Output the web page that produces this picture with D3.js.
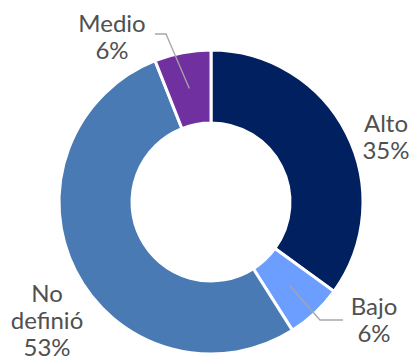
<!DOCTYPE html>
<html>
<head>
<meta charset="utf-8">
<script src="https://cdn.jsdelivr.net/npm/d3@7"></script>
<style>
  html, body { margin: 0; padding: 0; background: #fff; }
  svg { display: block; }
</style>
</head>
<body>
<svg id="chart" width="416" height="360"></svg>
<script>
// Slice data, clockwise from 12 o'clock
const categories = ["Alto", "Bajo", "No definió", "Medio"];
const values = [35, 6, 53, 6];
const colors = ["#002060", "#6B9EFF", "#4A7AB3", "#7030A0"];

const width = 416, height = 360;
const cx = 211, cy = 202;
const outerR = 152, innerR = 79;

const svg = d3.select("#chart");
const g = svg.append("g").attr("transform", `translate(${cx},${cy})`);

const pie = d3.pie().sort(null).value(d => d.value);
const arc = d3.arc().innerRadius(innerR).outerRadius(outerR);

const data = categories.map((c, i) => ({ name: c, value: values[i], color: colors[i] }));
const arcs = pie(data);
const total = d3.sum(values);

g.selectAll("path.slice")
  .data(arcs)
  .join("path")
  .attr("class", "slice")
  .attr("d", arc)
  .attr("fill", d => d.data.color)
  .attr("stroke", "#fff")
  .attr("stroke-width", 3)
  .attr("stroke-linejoin", "miter");

// Label placement: centre x and first baseline y relative to the chart centre,
// plus an optional leader line (elbow and end points relative to centre).
const labelLayout = {
  "Alto":       { x: 175, y: -70, leader: null },
  "Bajo":       { x: 163, y: 113, leader: { elbow: [109, 118], end: [132, 118] } },
  "No definió": { x: -164, y: 100, leader: null },
  "Medio":      { x: -99, y: -170, leader: { elbow: [-45, -168], end: [-56, -168] } }
};

const fontSize = 24, lineH = 27;

arcs.forEach(d => {
  const L = labelLayout[d.data.name];
  const pct = Math.round(d.data.value / total * 100) + "%";
  const lines = d.data.name.split(" ").concat([pct]);
  if (L.leader) {
    const c = arc.centroid(d);
    g.append("polyline")
      .attr("points", [c, L.leader.elbow, L.leader.end].map(p => p.join(",")).join(" "))
      .attr("fill", "none")
      .attr("stroke", "#A6A6A6")
      .attr("stroke-width", 1.3);
  }
  const t = g.append("text")
    .attr("text-anchor", "middle")
    .attr("font-family", "Lato, 'DejaVu Sans', sans-serif")
    .attr("font-size", fontSize)
    .attr("fill", "#505050");
  lines.forEach((s, i) => {
    t.append("tspan")
      .attr("x", L.x)
      .attr("y", L.y + i * lineH)
      .text(s);
  });
});
</script>
</body>
</html>
